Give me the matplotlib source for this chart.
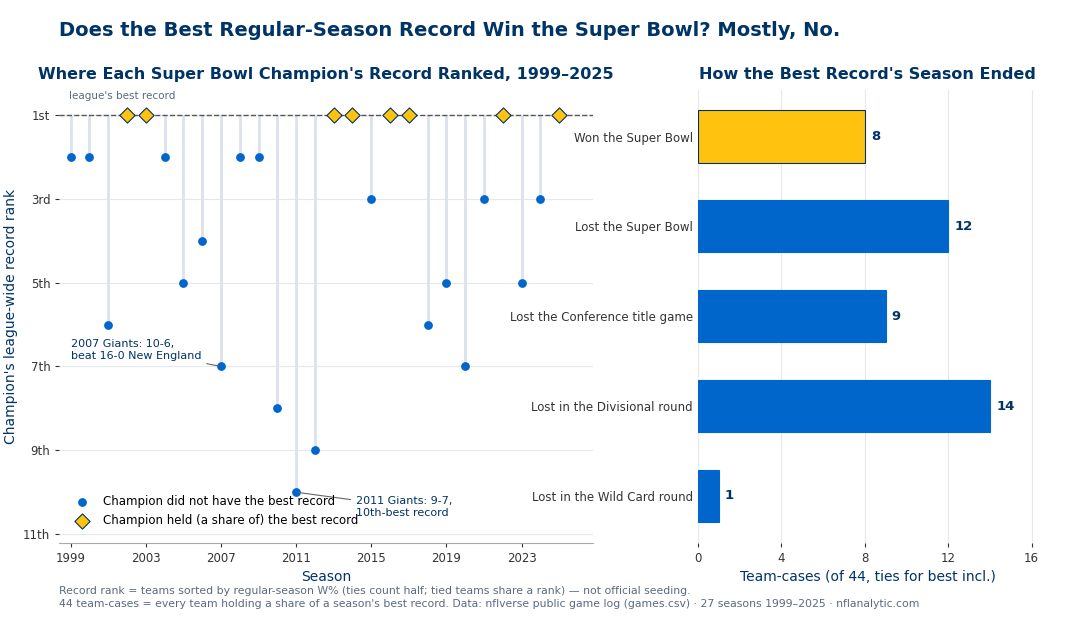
import matplotlib
matplotlib.use("Agg")
import matplotlib.pyplot as plt
import numpy as np

seasons = list(range(1999, 2026))
ranks = [2, 2, 6, 1, 1, 2, 5, 4, 7, 2, 2, 8, 10, 9, 1, 1, 3, 1, 1, 6, 5, 7, 3, 1, 5, 3, 1]
outcomes = ["Won the Super Bowl", "Lost the Super Bowl", "Lost the Conference title game",
            "Lost in the Divisional round", "Lost in the Wild Card round"]
counts = [8, 12, 9, 14, 1]

NAVY = "#003366"; BLUE = "#0066CC"; GOLD = "#FFC20E"; STEM = "#DDE1EE"; GRID = "#E6E8F0"

fig = plt.figure(figsize=(10.8, 6.2), dpi=100)
fig.text(0.055, 0.95, "Does the Best Regular-Season Record Win the Super Bowl? Mostly, No.",
         fontsize=14, fontweight="bold", color=NAVY, va="center")
fig.text(0.055, 0.046, "Record rank = teams sorted by regular-season W% (ties count half; tied teams share a rank) — not official seeding.",
         fontsize=7.8, color="#5A6A80", va="center")
fig.text(0.055, 0.026, "44 team-cases = every team holding a share of a season's best record. Data: nflverse public game log (games.csv) · 27 seasons 1999–2025 · nflanalytic.com",
         fontsize=7.8, color="#5A6A80", va="center")

ax = fig.add_axes([0.055, 0.125, 0.494, 0.73])
ax.set_title("Where Each Super Bowl Champion's Record Ranked, 1999–2025", fontsize=11.5,
             fontweight="bold", color=NAVY, pad=8)
s = np.array(seasons); r = np.array(ranks)
ax.vlines(s, 1, r, color=STEM, lw=2, zorder=1)
ax.axhline(1, color="#555555", ls="--", lw=1, zorder=2)
nb = r != 1
ax.scatter(s[nb], r[nb], color=BLUE, s=28, zorder=3, label="Champion did not have the best record")
ax.scatter(s[~nb], r[~nb], marker="D", color=GOLD, edgecolor=NAVY, lw=0.8, s=60, zorder=4,
           label="Champion held (a share of) the best record")
ax.set_ylim(11.2, 0.4)
ax.set_xlim(1998.4, 2026.8)
ax.set_yticks([1, 3, 5, 7, 9, 11], ["1st", "3rd", "5th", "7th", "9th", "11th"])
ax.set_xticks(range(1999, 2026, 4))
ax.grid(axis="y", color=GRID, lw=0.8)
ax.set_axisbelow(True)
for sp in ["top", "right", "left"]:
    ax.spines[sp].set_visible(False)
ax.spines["bottom"].set_color("#AAAAAA")
ax.tick_params(labelsize=8.5, length=3, colors="#333333")
ax.set_xlabel("Season", color=NAVY, fontsize=10)
ax.set_ylabel("Champion's league-wide record rank", color=NAVY, fontsize=10)
ax.text(1998.9, 0.62, "league's best record", fontsize=7.5, color="#5A6A80")
ax.annotate("2007 Giants: 10-6,\nbeat 16-0 New England", xy=(2007, 7), xytext=(1999, 6.6),
            fontsize=8, color=NAVY, va="center",
            arrowprops=dict(arrowstyle="-", color="#666666", lw=0.8))
ax.annotate("2011 Giants: 9-7,\n10th-best record", xy=(2011, 10), xytext=(2014.2, 10.35),
            fontsize=8, color=NAVY, va="center",
            arrowprops=dict(arrowstyle="-", color="#666666", lw=0.8))
ax.legend(loc="lower left", frameon=False, fontsize=8.5, bbox_to_anchor=(0.0, 0.01))

ax2 = fig.add_axes([0.646, 0.125, 0.315, 0.73])
ax2.set_title("How the Best Record's Season Ended", fontsize=11.5, fontweight="bold", color=NAVY, pad=8)
y = np.arange(len(outcomes))
colors = [GOLD] + [BLUE] * (len(outcomes) - 1)
edges = [NAVY] + [BLUE] * (len(outcomes) - 1)
ax2.barh(y, counts, height=0.58, color=colors, edgecolor=edges, lw=0.8, zorder=3)
for yi, c in zip(y, counts):
    ax2.text(c + 0.3, yi, str(c), va="center", fontsize=9.5, fontweight="bold", color=NAVY)
ax2.set_yticks(y, outcomes)
ax2.invert_yaxis()
ax2.set_xlim(0, 16.3)
ax2.set_xticks([0, 4, 8, 12, 16])
ax2.grid(axis="x", color=GRID, lw=0.8)
ax2.set_axisbelow(True)
for sp in ax2.spines.values():
    sp.set_visible(False)
ax2.tick_params(labelsize=8.5, length=0, colors="#333333")
ax2.tick_params(axis="x", length=3)
ax2.set_xlabel("Team-cases (of 44, ties for best incl.)", color=NAVY, fontsize=10)

fig.savefig("out.png", dpi=100)
